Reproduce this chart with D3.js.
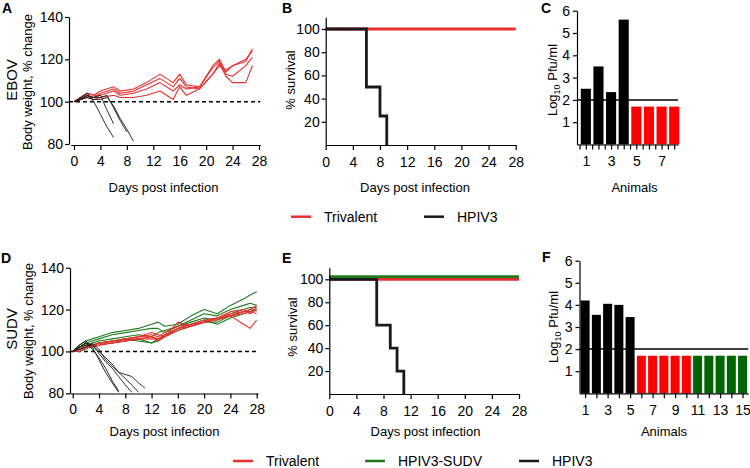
<!DOCTYPE html>
<html><head><meta charset="utf-8">
<script src="https://cdn.jsdelivr.net/npm/d3@7"></script>
<style>body{margin:0;background:#fff}</style>
</head><body><svg id="c" width="750" height="468"></svg>
<script>
// ---------- DATA ----------
const dayTicks = [0,4,8,12,16,20,24,28];
const weightTicks = [80,100,120,140];
const survTicks = [20,40,60,80,100];
const titerTicks = [1,2,3,4,5,6];
const detectionLimit = 2;

// Panel A (EBOV body weight)
const aRedDays = [0,2,3,4,6,7,9,11,13,15,16,17,19,21,22,23,24,26,27];
const aRed1 = [100,104,103,105,107,105,106,109,113,109,113,108,107,117,120,114,117,119,125];
const aRed2 = [100,103,102,104,106,104,105,108,111,107,111,107,106,113,118,112,109,109,117];
const aRed3 = [100,104,103,103,105,103,104,106,109,105,108,106,107,116,119,113,112,117,121];
const aRed4 = [100,102,101,102,103,102,102,103,105,101,107,103,106,113,117,115,117,120,124];
const aBlackDays1 = [0,1,2,3,4,5,6];         const aBlack1 = [100,102,104,100,94,88,83];
const aBlackDays2 = [0,1,2,3,4,5,6];         const aBlack2 = [100,101.5,103,102,103,96,89.5];
const aBlackDays3 = [0,1,2,3,4,5,6,7,8];     const aBlack3 = [100,101,102.5,102,102,103,97,91,85.7];
const aBlackDays4 = [0,1,2,3,4,5,6,7,8,9];   const aBlack4 = [100,101,102,101,101,102,98,92,87,81.3];

// Panel D (SUDV body weight)
const dDays = [0,1,2,3,4,6,8,10,12,13,14,16,18,20,22,24,26,27,28];
const dGreen1 = [100,103,105,106,107,109,110,111,113,114,112,113,117,120,118,122,125,127,128.5];
const dGreen2 = [100,102,104,105,106,108,109,110,111,111,109,112,115,118,117,120,122,123,122];
const dGreen3 = [100,101,103,104,105,106,107,108,107,109,110,112,114,116,115,118,120,121,121];
const dGreen4 = [100,100,101,103,104,105,106,105,104,106,108,111,113,115,113,116,118,119,120];
const dGreen5 = [100,101,102,103,104,104,105,106,104,105,107,110,112,114,114,117,119,120,119.5];
const dRed1 = [100,101,103,103,104,105,106,107,108,107,109,112,113,115,116,118,119,120,122];
const dRed2 = [100,101,102,103,104,105,105,106,107,106,108,111,112,114,115,117,118,119,121];
const dRed3 = [100,100,102,102,103,104,105,107,107,105,107,114,112,114,116,119,120,118,120];
const dRed4 = [100,101,102,103,104,104,106,107,109,108,107,111,113,114,116,117,119,119,118];
const dRed5 = [100,101,102,103,103,104,105,106,106,106,107,110,112,114,116,117,113,111,115];
const dBlackDays1 = [0,1,2,3,4,5,6,7];                const dBlack1 = [100,103,105,102,96,90,85,80.5];
const dBlackDays2 = [0,1,2,3,4,5,6,7];                const dBlack2 = [100,102,104,101,97,92,86,81];
const dBlackDays3 = [0,1,2,3,4,5,6,7,8,9];            const dBlack3 = [100,102,103,103,99,95,92,88,84,80.5];
const dBlackDays4 = [0,1,2,3,4,5,6,7,8,9,10];         const dBlack4 = [100,101,102,104,101,96,93,90,87,84,80.5];
const dBlackDays5 = [0,1,2,3,4,5,6,7,8,9,10,11];      const dBlack5 = [100,102,104,103,100,97,94,90,89,88,85,82.5];

// Panel B (EBOV survival)
const bTriDays = [0,28];        const bTriSurv = [100,100];
const bHpivDays = [0,6,8,9];    const bHpivSurv = [100,50,25,0];
// Panel E (SUDV survival)
const eTriDays = [0,28];        const eTriSurv = [100,100];
const eSudvDays = [0,28];       const eSudvSurv = [100,100];
const eHpivDays = [0,7,9,10,11]; const eHpivSurv = [100,60,40,20,0];

// Panel C (EBOV titers)
const cAnimals = [1,2,3,4,5,6,7,8];
const cTiter = [2.5,3.5,2.35,5.6,1.7,1.7,1.7,1.7];
const cGroup = ["HPIV3","HPIV3","HPIV3","HPIV3","Trivalent","Trivalent","Trivalent","Trivalent"];
const cLabels = [1,3,5,7];
// Panel F (SUDV titers)
const fAnimals = [1,2,3,4,5,6,7,8,9,10,11,12,13,14,15];
const fTiter = [4.2,3.55,4.05,4.0,3.45,1.7,1.7,1.7,1.7,1.7,1.7,1.7,1.7,1.7,1.7];
const fGroup = ["HPIV3","HPIV3","HPIV3","HPIV3","HPIV3","Trivalent","Trivalent","Trivalent","Trivalent","Trivalent","HPIV3-SUDV","HPIV3-SUDV","HPIV3-SUDV","HPIV3-SUDV","HPIV3-SUDV"];
const fLabels = [1,3,5,7,9,11,13,15];

const legend1 = ["Trivalent","HPIV3"];
const legend2 = ["Trivalent","HPIV3-SUDV","HPIV3"];

// ---------- STYLE ----------
const FONT = '"Liberation Sans", Arial, Helvetica, sans-serif';
const lineColor = {"Trivalent":"#e8302e","HPIV3-SUDV":"#1e7a1e","HPIV3":"#1a1a1a"};
const barColor = {"Trivalent":"#ff0000","HPIV3-SUDV":"#006400","HPIV3":"#000000"};

const svg = d3.select("#c");

function styleAxis(g, fs){
  g.attr("font-family", FONT).attr("font-size", fs);
  g.selectAll("text").attr("fill","#000");
  g.selectAll("path,line").attr("stroke","#000").attr("stroke-width",1.2);
}
function text(x,y,str,opt={}){
  const t = svg.append("text").attr("x",x).attr("y",y).text(str)
    .attr("font-family",FONT).attr("font-size",opt.size||13)
    .attr("text-anchor",opt.anchor||"middle").attr("fill","#000");
  if(opt.bold) t.attr("font-weight","bold");
  if(opt.rot) t.attr("transform",`rotate(-90,${x},${y})`);
  return t;
}

// ---------- WEIGHT PANELS ----------
function drawWeight(cfg){
  const x = d3.scaleLinear().domain(cfg.xDomain).range(cfg.xRange);
  const y = d3.scaleLinear().domain([80,140]).range(cfg.yRange);
  const g = svg.append("g");
  const line = d3.line().x(d=>x(d[0])).y(d=>y(d[1]));
  g.append("line").attr("x1",cfg.yAxisX).attr("x2",x(28.2))
    .attr("y1",y(100)).attr("y2",y(100))
    .attr("stroke","#000").attr("stroke-width",1.5).attr("stroke-dasharray","4,3");
  cfg.series.forEach(s=>{
    g.append("path").datum(d3.zip(s.days,s.vals)).attr("d",line)
      .attr("fill","none").attr("stroke",lineColor[s.group])
      .attr("stroke-width",s.group==="HPIV3"?0.9:1.1)
      .attr("stroke-linejoin","round");
  });
  const ya = g.append("g").attr("transform",`translate(${cfg.yAxisX},0)`)
    .call(d3.axisLeft(y).tickValues(weightTicks).tickSize(4).tickPadding(2).tickSizeOuter(0));
  styleAxis(ya,14);
  const xa = g.append("g").attr("transform",`translate(0,${cfg.xAxisY})`)
    .call(d3.axisBottom(x).tickValues(dayTicks).tickSize(5).tickPadding(6).tickSizeOuter(0));
  styleAxis(xa,14);
}

drawWeight({xDomain:[-0.5,28.2], xRange:[70.7,260.3], yRange:[144,17], yAxisX:69, xAxisY:145,
  series:[
    {group:"Trivalent",days:aRedDays,vals:aRed1},{group:"Trivalent",days:aRedDays,vals:aRed2},
    {group:"Trivalent",days:aRedDays,vals:aRed3},{group:"Trivalent",days:aRedDays,vals:aRed4},
    {group:"HPIV3",days:aBlackDays1,vals:aBlack1},{group:"HPIV3",days:aBlackDays2,vals:aBlack2},
    {group:"HPIV3",days:aBlackDays3,vals:aBlack3},{group:"HPIV3",days:aBlackDays4,vals:aBlack4}
  ]});
drawWeight({xDomain:[-0.4,28.2], xRange:[70.1,258], yRange:[393.3,267.7], yAxisX:70, xAxisY:393.5,
  series:[
    {group:"HPIV3-SUDV",days:dDays,vals:dGreen1},{group:"HPIV3-SUDV",days:dDays,vals:dGreen2},
    {group:"HPIV3-SUDV",days:dDays,vals:dGreen3},{group:"HPIV3-SUDV",days:dDays,vals:dGreen4},
    {group:"HPIV3-SUDV",days:dDays,vals:dGreen5},
    {group:"Trivalent",days:dDays,vals:dRed1},{group:"Trivalent",days:dDays,vals:dRed2},
    {group:"Trivalent",days:dDays,vals:dRed3},{group:"Trivalent",days:dDays,vals:dRed4},
    {group:"Trivalent",days:dDays,vals:dRed5},
    {group:"HPIV3",days:dBlackDays1,vals:dBlack1},{group:"HPIV3",days:dBlackDays2,vals:dBlack2},
    {group:"HPIV3",days:dBlackDays3,vals:dBlack3},{group:"HPIV3",days:dBlackDays4,vals:dBlack4},
    {group:"HPIV3",days:dBlackDays5,vals:dBlack5}
  ]});

// ---------- SURVIVAL PANELS ----------
function drawSurv(cfg){
  const x = d3.scaleLinear().domain([0,28]).range(cfg.xRange);
  const y = d3.scaleLinear().domain([0,100]).range(cfg.yRange);
  const g = svg.append("g");
  const line = d3.line().x(d=>x(d[0])).y(d=>y(d[1])).curve(d3.curveStepAfter);
  cfg.series.forEach(s=>{
    g.append("path").datum(d3.zip(s.days,s.vals)).attr("d",line)
      .attr("transform",`translate(0,${s.shift||0})`)
      .attr("fill","none").attr("stroke",lineColor[s.group]).attr("stroke-width",2.8);
  });
  const ya = g.append("g").attr("transform",`translate(${x(0)},0)`)
    .call(d3.axisLeft(y.copy().domain([0,110]).range([cfg.yRange[0], y(110)])).tickValues(survTicks).tickSize(4).tickPadding(2).tickSizeOuter(0));
  styleAxis(ya,14);
  const xa = g.append("g").attr("transform",`translate(0,${y(0)})`)
    .call(d3.axisBottom(x).tickValues(dayTicks).tickSize(5).tickPadding(7).tickSizeOuter(0));
  styleAxis(xa,14);
}
drawSurv({xRange:[325.7,515.7], yRange:[145,29],
  series:[{group:"Trivalent",days:bTriDays,vals:bTriSurv},{group:"HPIV3",days:bHpivDays,vals:bHpivSurv}]});
drawSurv({xRange:[329.3,519], yRange:[394,279.3],
  series:[{group:"Trivalent",days:eTriDays,vals:eTriSurv},{group:"HPIV3",days:eHpivDays,vals:eHpivSurv},
          {group:"HPIV3-SUDV",days:eSudvDays,vals:eSudvSurv,shift:-2.6}]});

// ---------- TITER PANELS ----------
function drawBars(cfg){
  const x = d3.scaleLinear().domain(cfg.xDomain).range(cfg.xRange);
  const y = d3.scaleLinear().domain([0,6]).range(cfg.yRange);
  const step = x(1)-x(0), bw = step*0.8;
  const g = svg.append("g");
  g.selectAll("rect").data(cfg.animals).join("rect")
    .attr("x",(d)=>x(d)-bw/2).attr("width",bw)
    .attr("y",(d,i)=>y(cfg.titer[i])).attr("height",(d,i)=>y(0)-y(cfg.titer[i]))
    .attr("fill",(d,i)=>barColor[cfg.group[i]]);
  g.append("line").attr("x1",cfg.xRange[0]).attr("x2",cfg.xRange[1])
    .attr("y1",y(detectionLimit)).attr("y2",y(detectionLimit))
    .attr("stroke","#000").attr("stroke-width",1.5);
  const ya = g.append("g").attr("transform",`translate(${cfg.xRange[0]},0)`)
    .call(d3.axisLeft(y).tickValues(titerTicks).tickFormat(d3.format("d")).tickSize(4).tickPadding(3).tickSizeOuter(0));
  styleAxis(ya,14);
  const xa = g.append("g").attr("transform",`translate(0,${y(0)})`)
    .call(d3.axisBottom(x).tickValues(cfg.tickVals).tickSize(5).tickPadding(7).tickSizeOuter(0)
      .tickFormat(d=>cfg.labels.includes(d)?d:""));
  styleAxis(xa,14);
}
drawBars({xDomain:[0.3,8.3], xRange:[577,678], yRange:[144.5,10.7], animals:cAnimals, titer:cTiter, group:cGroup,
  labels:cLabels, tickVals:d3.range(0.5,8.01,0.5)});
drawBars({xDomain:[0.5,15.5], xRange:[579.5,748.2], yRange:[393.3,260.7], animals:fAnimals, titer:fTiter, group:fGroup,
  labels:fLabels, tickVals:fAnimals});

// ---------- TEXT ----------
[["A",2,13],["B",282,13],["C",541,13],["D",1,263],["E",282,263],["F",542,262]]
  .forEach(([l,x,y])=>text(x,y,l,{size:14,bold:true,anchor:"start"}));
text(32,82,"Body weight, % change",{rot:true,size:13});
text(33,331,"Body weight, % change",{rot:true,size:13});
text(17,80,"EBOV",{rot:true,size:15});
text(17,329,"SUDV",{rot:true,size:15});
text(295,80,"% survival",{rot:true,size:13});
text(297,327,"% survival",{rot:true,size:13});
function logLabel(x,y){
  const t = text(x,y,"Log",{rot:true,size:13});
  t.append("tspan").attr("font-size",9).attr("dy",3).text("10");
  t.append("tspan").attr("dy",-3).text(" Pfu/ml");
}
logLabel(557,80);
logLabel(558,327);
text(163.5,192,"Days post infection");
text(415,192,"Days post infection");
text(634.5,192,"Animals");
text(164.5,436,"Days post infection");
text(425.5,436,"Days post infection");
text(664,436,"Animals");

// ---------- LEGENDS ----------
function drawLegend(items, xs, y){
  items.forEach((name,i)=>{
    svg.append("line").attr("x1",xs[i]).attr("x2",xs[i]+20).attr("y1",y).attr("y2",y)
      .attr("stroke",lineColor[name]).attr("stroke-width",2.5);
    text(xs[i]+33,y+5,name,{size:14,anchor:"start"});
  });
}
drawLegend(legend1,[291,424],216.7);
drawLegend(legend2,[233,365,519],461);
</script>
</body></html>
